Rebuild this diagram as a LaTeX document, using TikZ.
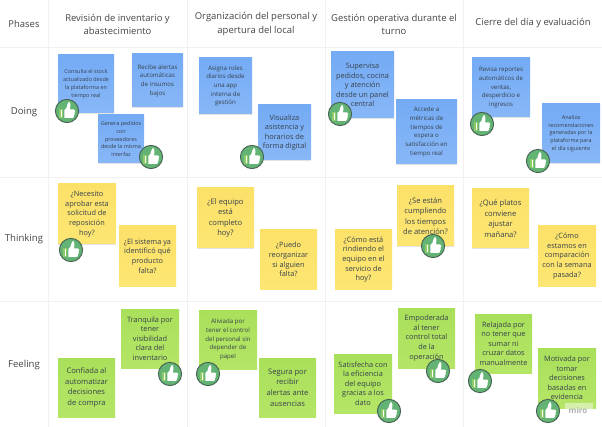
\documentclass[tikz,border=0pt]{standalone}
\usepackage{fontspec}
\setmainfont{Open Sans}
\usetikzlibrary{shadows}

\definecolor{gridline}{HTML}{F1F1F1}
\definecolor{labeltext}{HTML}{454545}
\definecolor{notetext}{HTML}{36414C}
\definecolor{bluetop}{HTML}{74ABF5}
\definecolor{bluebot}{HTML}{88B7F7}
\definecolor{yellowtop}{HTML}{FCE169}
\definecolor{yellowbot}{HTML}{FDE673}
\definecolor{greentop}{HTML}{A9E05A}
\definecolor{greenbot}{HTML}{B5E566}
\definecolor{thumbgreen}{HTML}{62B374}
\definecolor{thumbedge}{HTML}{466052}
\definecolor{thumbcuff}{HTML}{8CCB66}

\tikzset{
  note/.style 2 args={draw=none, inner sep=0pt, align=center, text=notetext,
    minimum width=#1*0.75pt, minimum height=#2*0.75pt,
    drop shadow={opacity=0.22, shadow xshift=0.3pt, shadow yshift=-0.8pt}},
  bluenote/.style={top color=bluetop, bottom color=bluebot},
  yellownote/.style={top color=yellowtop, bottom color=yellowbot},
  greennote/.style={top color=greentop, bottom color=greenbot},
  phase/.style={text=labeltext, align=center, font=\fontsize{7.1}{9.8}\selectfont},
  rowname/.style={text=labeltext, font=\fontsize{7.2}{10}\selectfont},
  tinytext/.style={font=\fontsize{4.1}{5.8}\selectfont},
  smalltext/.style={font=\fontsize{4.6}{6.5}\selectfont},
  midtext/.style={font=\fontsize{5.5}{7.2}\selectfont},
  roomytext/.style={font=\fontsize{5.7}{7.9}\selectfont},
  pics/thumb/.style={code={
    \draw[thumbedge, fill=thumbgreen, line width=0.7pt] (0,0) circle (11.6);
    % cuff
    \fill[thumbcuff] (-8,-2) rectangle (-3.6,7);
    \fill[white] (-6.4,-1) rectangle (-5.2,6);
    % hand
    \fill[white] (-2.6,-1) -- (-0.6,-3) .. controls (0.2,-5) and (0.2,-8) .. (1.8,-9)
      .. controls (3.6,-9) and (3.6,-5) .. (3,-1.5) -- (7,-1.5)
      .. controls (8.6,-1.5) and (8.6,1) .. (7.6,1.5)
      .. controls (8.2,3) and (7.6,4) .. (7,4.2)
      .. controls (7.4,5.6) and (6.6,6.6) .. (5.8,6.8) -- (-2.6,7) -- cycle;
  }},
}

\begin{document}
\begin{tikzpicture}[x=0.75pt, y=-0.75pt]
  \useasboundingbox (0,0) rectangle (602,427);
  \fill[white] (0,0) rectangle (602,427);

  % grid
  \foreach \gx in {48,187,325,463} {
    \draw[gridline, line width=0.6pt] (\gx,0) -- (\gx,427);
  }
  \foreach \gy in {47,177,301} {
    \draw[gridline, line width=0.6pt] (0,\gy) -- (602,\gy);
  }

  % header row
  \node[phase] (phases) at (24,23.5) {Phases};
  \node[phase] (revision) at (117.5,24) {Revisión de inventario y\\abastecimiento};
  \node[phase] (organizacion) at (256,24) {Organización del personal y\\apertura del local};
  \node[phase] (gestion) at (394,24) {Gestión operativa durante el\\turno};
  \node[phase] (cierre) at (533,23.5) {Cierre del día y evaluación};

  % row names
  \node[rowname] (doing) at (24,112) {Doing};
  \node[rowname] (thinking) at (24,239.5) {Thinking};
  \node[rowname] (feeling) at (24,365) {Feeling};

  % doing notes
  \node[note={56}{58}, bluenote, tinytext] (stock) at (86,84) {Consulta el stock\\actualizado desde\\la plataforma en\\tiempo real};
  \node[note={51}{53}, bluenote, smalltext] (alertas) at (157.5,80.5) {Recibe alertas\\automáticas\\de insumos\\bajos};
  \node[note={46}{48}, bluenote, tinytext] (pedidos) at (121,139) {Genera pedidos\\con\\proveedores\\desde la misma\\interfaz};
  \node[note={53}{56}, bluenote, smalltext] (roles) at (225.5,86) {Asigna roles\\diarios desde\\una app\\interna de\\gestión};
  \node[note={53}{55}, bluenote, midtext] (asistencia) at (284.5,132.5) {Visualiza\\asistencia y\\horarios de\\forma digital};
  \node[note={63}{66}, bluenote, midtext] (supervisa) at (362.5,85) {Supervisa\\pedidos, cocina\\y atención\\desde un panel\\central};
  \node[note={61}{64}, bluenote, smalltext] (metricas) at (426.5,132) {Accede a\\métricas de\\tiempos de\\espera o\\satisfacción en\\tiempo real};
  \node[note={58}{59}, bluenote, smalltext] (reportes) at (501,87.5) {Revisa reportes\\automáticos de\\ventas,\\desperdicio e\\ingresos};
  \node[note={58}{59}, bluenote, tinytext] (recomienda) at (571,133.5) {Analiza\\recomendaciones\\generadas por la\\plataforma para\\el día siguiente};

  % thinking notes
  \node[note={58}{60}, yellownote, midtext] (aprobar) at (87,214) {¿Necesito\\aprobar esta\\solicitud de\\reposición\\hoy?};
  \node[note={57}{60}, yellownote, midtext] (sistema) at (147.5,256) {¿El sistema ya\\identificó qué\\producto\\falta?};
  \node[note={57}{60}, yellownote, roomytext] (equipo) at (225.5,218) {¿El equipo\\está\\completo\\hoy?};
  \node[note={57}{59}, yellownote, midtext] (reorganizar) at (288.5,259.5) {¿Puedo\\reorganizar\\si alguien\\falta?};
  \node[note={57}{59}, yellownote, midtext] (rindiendo) at (363.5,259.5) {¿Cómo está\\rindiendo el\\equipo en el\\servicio de\\hoy?};
  \node[note={57}{60}, yellownote, roomytext] (cumpliendo) at (425.5,216) {¿Se están\\cumpliendo\\los tiempos\\de atención?};
  \node[note={57}{59}, yellownote, roomytext] (platos) at (500.5,218.5) {¿Qué platos\\conviene\\ajustar\\mañana?};
  \node[note={58}{60}, yellownote, midtext] (semana) at (567,256) {¿Cómo\\estamos en\\comparación\\con la semana\\pasada?};

  % feeling notes
  \node[note={57}{59}, greennote, roomytext] (confiada) at (86.5,387.5) {Confiada al\\automatizar\\decisiones\\de compra};
  \node[note={58}{59}, greennote, midtext] (tranquila) at (150,338.5) {Tranquila por\\tener\\visibilidad\\clara del\\inventario};
  \node[note={58}{59}, greennote, smalltext] (aliviada) at (228,339.5) {Aliviada por\\tener el control\\del personal sin\\depender de\\papel};
  \node[note={57}{59}, greennote, roomytext] (segura) at (287.5,387.5) {Segura por\\recibir\\alertas ante\\ausencias};
  \node[note={58}{59}, greennote, midtext] (satisfecha) at (363,383.5) {Satisfecha con\\la eficiencia\\del equipo\\gracias a los\\dato};
  \node[note={57}{60}, greennote, midtext] (empoderada) at (426.5,338) {Empoderada\\al tener\\control total\\de la\\operación};
  \node[note={57}{59}, greennote, midtext] (relajada) at (503.5,343.5) {Relajada por\\no tener que\\sumar ni\\cruzar datos\\manualmente};
  \node[note={58}{60}, greennote, midtext] (motivada) at (567,378) {Motivada por\\tomar\\decisiones\\basadas en\\evidencia};

  % watermark
  \fill[white, opacity=0.45] (565,403) rectangle (593,418);
  \node[text=black!30, font=\bfseries\fontsize{6}{7}\selectfont] (miro) at (578,410) {miro};

  % thumbs
  \foreach \tx/\ty in {67/111,151/157,252/157,340/114,482/124,538/161,
                       71/250,433/246,
                       170/374,208/374,389/411,438/371,480/381,548/411} {
    \pic at (\tx,\ty) {thumb};
  }
\end{tikzpicture}
\end{document}
